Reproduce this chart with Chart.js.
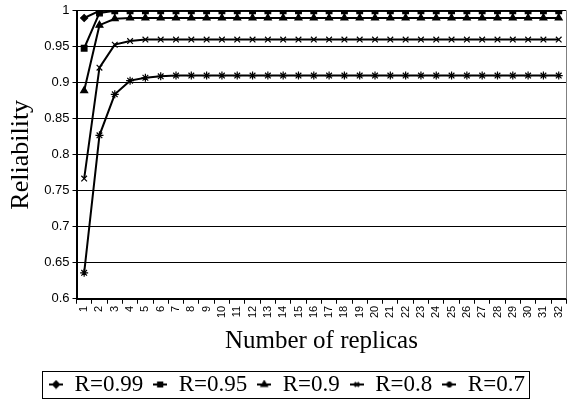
<!DOCTYPE html>
<html>
  <head>
    <title>Reliability vs replicas</title>
    <script src="https://cdn.jsdelivr.net/npm/chart.js@4.4.1/dist/chart.umd.min.js"></script>
    <style>
      html, body { margin: 0; padding: 0; background: #fff; }
      #container { width: 574px; height: 408px; }
    </style>
  </head>
  <body>
    <div id="container">
      <canvas id="canvas"></canvas>
    </div>
    <script>
      const replicas = Array.from({ length: 32 }, (_, i) => String(i + 1));

      const r099 = [0.990, 0.9999, 1, 1, 1, 1, 1, 1, 1, 1, 1, 1, 1, 1, 1, 1,
                    1, 1, 1, 1, 1, 1, 1, 1, 1, 1, 1, 1, 1, 1, 1, 1];
      const r095 = [0.948, 0.997, 0.9999, 1, 1, 1, 1, 1, 1, 1, 1, 1, 1, 1, 1, 1,
                    1, 1, 1, 1, 1, 1, 1, 1, 1, 1, 1, 1, 1, 1, 1, 1];
      const r09  = [0.889, 0.980, 0.989, 0.990, 0.990, 0.990, 0.990, 0.990, 0.990, 0.990, 0.990, 0.990, 0.990, 0.990, 0.990, 0.990,
                    0.990, 0.990, 0.990, 0.990, 0.990, 0.990, 0.990, 0.990, 0.990, 0.990, 0.990, 0.990, 0.990, 0.990, 0.990, 0.990];
      const r08  = [0.767, 0.921, 0.953, 0.958, 0.960, 0.960, 0.960, 0.960, 0.960, 0.960, 0.960, 0.960, 0.960, 0.960, 0.960, 0.960,
                    0.960, 0.960, 0.960, 0.960, 0.960, 0.960, 0.960, 0.960, 0.960, 0.960, 0.960, 0.960, 0.960, 0.960, 0.960, 0.960];
      const r07  = [0.636, 0.827, 0.884, 0.903, 0.907, 0.909, 0.910, 0.910, 0.910, 0.910, 0.910, 0.910, 0.910, 0.910, 0.910, 0.910,
                    0.910, 0.910, 0.910, 0.910, 0.910, 0.910, 0.910, 0.910, 0.910, 0.910, 0.910, 0.910, 0.910, 0.910, 0.910, 0.910];

      const seriesNames = ['R=0.99', 'R=0.95', 'R=0.9', 'R=0.8', 'R=0.7'];
      const seriesData = [r099, r095, r09, r08, r07];
      const markers = [
        { style: 'rectRot', radius: 3.5 },
        { style: 'rect', radius: 4 },
        { style: 'triangle', radius: 4 },
        { style: 'crossRot', radius: 4 },
        { style: 'star', radius: 4 },
      ];

      // small legend icons: line with the marker on it
      function legendIcon(m) {
        const c = document.createElement('canvas');
        c.width = 14; c.height = 10;
        const g = c.getContext('2d');
        g.strokeStyle = '#000'; g.lineWidth = 2;
        g.beginPath(); g.moveTo(0, 5); g.lineTo(14, 5); g.stroke();
        g.fillStyle = '#000';
        Chart.helpers.drawPoint(g, { pointStyle: m.style, radius: 3, borderWidth: 1.2 }, 7, 5);
        return c;
      }

      const boxLegend = {
        id: 'boxLegend',
        afterDraw(chart) {
          const ctx = chart.ctx;
          const a = chart.chartArea;
          ctx.save();
          ctx.strokeStyle = '#808080';
          ctx.lineWidth = 1;
          ctx.beginPath();
          ctx.moveTo(Math.round(a.right) + 0.5, a.top);
          ctx.lineTo(Math.round(a.right) + 0.5, a.bottom);
          ctx.stroke();
          const boxes = chart.legend.legendHitBoxes;
          if (boxes && boxes.length) {
            let l = Infinity, r = -Infinity, t = Infinity, b = -Infinity;
            boxes.forEach(h => {
              l = Math.min(l, h.left); r = Math.max(r, h.left + h.width);
              t = Math.min(t, h.top); b = Math.max(b, h.top + h.height);
            });
            ctx.strokeStyle = '#000';
            ctx.strokeRect(Math.round(l - 7) + 0.5, Math.round(t - 2) + 0.5, Math.round(r - l + 11), Math.round(b - t + 4));
          }
          ctx.restore();
        }
      };

      window.onload = () => {
        const ctx = document.getElementById('canvas').getContext('2d');
        new Chart(ctx, {
          type: 'line',
          data: {
            labels: replicas,
            datasets: seriesNames.map((name, i) => ({
              label: name,
              data: seriesData[i],
              borderColor: '#000',
              backgroundColor: '#000',
              borderWidth: 2,
              pointStyle: markers[i].style,
              pointRadius: markers[i].radius,
              pointBorderWidth: 1.2,
              tension: 0,
            })),
          },
          options: {
            responsive: true,
            maintainAspectRatio: false,
            animation: false,
            layout: { padding: { left: 2, right: 2, top: 10, bottom: 2 } },
            plugins: {
              tooltip: { enabled: false },
              legend: {
                position: 'bottom',
                labels: {
                  color: '#000',
                  font: { family: 'Liberation Serif', size: 23 },
                  usePointStyle: true,
                  boxWidth: 14,
                  boxHeight: 10,
                  padding: 10,
                  generateLabels: (chart) => seriesNames.map((name, i) => ({
                    text: name,
                    pointStyle: legendIcon(markers[i]),
                    datasetIndex: i,
                    fillStyle: '#000',
                    strokeStyle: '#000',
                    lineWidth: 0,
                  })),
                },
              },
            },
            scales: {
              x: {
                offset: true,
                title: {
                  display: true,
                  text: 'Number of replicas',
                  color: '#000',
                  font: { family: 'Liberation Serif', size: 25 },
                  padding: { top: 6, bottom: 7 },
                },
                ticks: {
                  color: '#000',
                  font: { family: 'Liberation Sans', size: 11 },
                  minRotation: 90,
                  maxRotation: 90,
                  autoSkip: false,
                  padding: 2,
                },
                grid: {
                  offset: true,
                  drawOnChartArea: false,
                  drawTicks: true,
                  tickLength: 5,
                  color: '#000',
                },
                border: { color: '#000', width: 2 },
              },
              y: {
                min: 0.6,
                max: 1,
                title: {
                  display: true,
                  text: 'Reliability',
                  color: '#000',
                  font: { family: 'Liberation Serif', size: 26 },
                  padding: { bottom: 4 },
                },
                ticks: {
                  stepSize: 0.05,
                  color: '#000',
                  font: { family: 'Liberation Sans', size: 13 },
                  padding: 3,
                  callback: (v) => Math.round(v * 100) / 100,
                },
                grid: {
                  color: '#000',
                  lineWidth: 1,
                  tickLength: 4,
                },
                border: { color: '#000', width: 2 },
              },
            },
          },
          plugins: [boxLegend],
        });
      };
    </script>
  </body>
</html>
